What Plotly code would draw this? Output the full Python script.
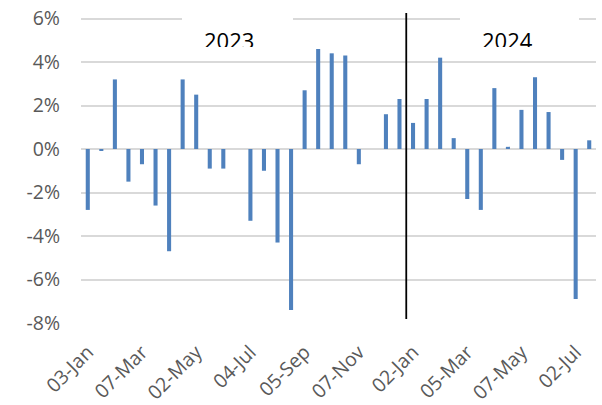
import plotly.graph_objects as go

# Observation dates: first and third Tuesday of each month
dates = [
    "2023-01-03", "2023-01-17", "2023-02-07", "2023-02-21", "2023-03-07", "2023-03-21",
    "2023-04-04", "2023-04-18", "2023-05-02", "2023-05-16", "2023-06-06", "2023-06-20",
    "2023-07-04", "2023-07-18", "2023-08-01", "2023-08-15", "2023-09-05", "2023-09-19",
    "2023-10-03", "2023-10-17", "2023-11-07", "2023-11-21", "2023-12-05", "2023-12-19",
    "2024-01-02", "2024-01-16", "2024-02-06", "2024-02-20", "2024-03-05", "2024-03-19",
    "2024-04-02", "2024-04-16", "2024-05-07", "2024-05-21", "2024-06-04", "2024-06-18",
    "2024-07-02", "2024-07-16",
]

# Period return, %
returns = [
    -2.8, -0.07, 3.2, -1.5, -0.7, -2.6,
    -4.7, 3.2, 2.5, -0.9, -0.9, None,
    -3.3, -1.0, -4.3, -7.4, 2.7, 4.6,
    4.4, 4.3, -0.7, None, 1.6, 2.3,
    1.2, 2.3, 4.2, 0.5, -2.3, -2.8,
    2.8, 0.1, 1.8, 3.3, 1.7, -0.5,
    -6.9, 0.4,
]

tick_labels = ["03-Jan", "07-Mar", "02-May", "04-Jul", "05-Sep", "07-Nov",
               "02-Jan", "05-Mar", "07-May", "02-Jul"]
tick_every = 4
year_labels = ["2023", "2024"]
year_break = 23.5  # between 19-Dec-2023 and 02-Jan-2024

y_ticks = [-8, -6, -4, -2, 0, 2, 4, 6]

FONT = "Open Sans, DejaVu Sans, sans-serif"
GREY = "#595959"
TICK_SIZE = 19.5

fig = go.Figure()
fig.add_trace(go.Bar(
    x=dates,
    y=returns,
    marker=dict(color="#4F81BD", line=dict(width=0)),
    width=0.3,
    showlegend=False,
))

fig.update_layout(
    width=602, height=405,
    margin=dict(l=81, r=6, t=12, b=82, autoexpand=False),
    paper_bgcolor="white",
    plot_bgcolor="white",
    font=dict(family=FONT, color=GREY, size=TICK_SIZE),
)

fig.update_xaxes(
    type="category",
    categoryorder="array",
    categoryarray=dates,
    range=[-0.5, len(dates) - 0.5],
    tickmode="array",
    tickvals=dates[::tick_every],
    ticktext=tick_labels,
    tickangle=-45,
    ticks="",
    showgrid=False,
    showline=False,
    zeroline=False,
    automargin=False,
    ticklabelstandoff=13,
    tickfont=dict(family=FONT, size=TICK_SIZE, color=GREY),
)

fig.update_yaxes(
    range=[-8, 6.3],
    tickmode="array",
    tickvals=y_ticks,
    ticktext=[f"{v}%" for v in y_ticks],
    showgrid=True,
    gridcolor="#D9D9D9",
    gridwidth=1.6,
    zeroline=False,
    showline=False,
    ticks="",
    automargin=False,
    ticklabelstandoff=20,
    tickfont=dict(family=FONT, size=TICK_SIZE, color=GREY),
)

# White label boxes that interrupt the top gridline
for x0, x1 in [(0.1961, 0.4117), (0.7359, 0.967)]:
    fig.add_shape(type="rect", xref="paper", yref="paper",
                  x0=x0, x1=x1, y0=0.894, y1=1.03,
                  fillcolor="white", line=dict(width=0), layer="above")

# Year separator
fig.add_shape(type="line", xref="x", yref="paper",
              x0=year_break, x1=year_break, y0=0.013, y1=0.997,
              line=dict(color="black", width=1.8), layer="above")

# Year labels (clipped at the bottom of their boxes)
for label, xc in zip(year_labels, [0.2874, 0.8282]):
    fig.add_annotation(
        text=label, xref="paper", yref="paper",
        x=xc, y=0.9646, xanchor="center", yanchor="top",
        height=22, valign="top", showarrow=False,
        font=dict(family=FONT, size=22, color="black"),
    )

fig.write_html("out.html")
